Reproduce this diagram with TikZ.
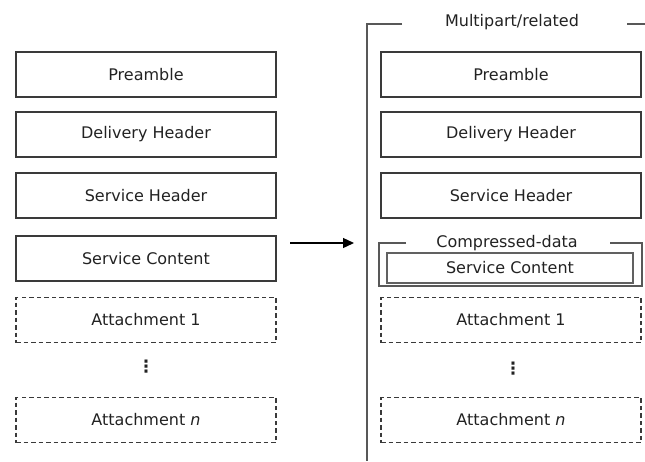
\documentclass[tikz,border=0pt]{standalone}
\usepackage{fontspec}
\setmainfont{DejaVu Sans}
\usetikzlibrary{arrows.meta}
\definecolor{ln}{HTML}{3A3A3A}
\definecolor{tx}{HTML}{222222}
\begin{document}
\begin{tikzpicture}[x=1pt,y=-1pt,
  font=\fontsize{16}{19}\selectfont, text=tx,
  box/.style={draw=ln, line width=1.3pt, minimum width=260pt, minimum height=45pt, inner sep=0pt, anchor=center},
  dbox/.style={box, dash pattern=on 4.5pt off 3pt, line width=1.1pt},
  frame/.style={draw=ln!85, line width=1.4pt},
  vdots/.style={font=\fontsize{17}{17}\selectfont\bfseries, inner sep=0pt}]
\useasboundingbox (0,0) rectangle (645,461);
% left column
\node[box] (lpre) at (146,74.5) {Preamble};
\node[box] (ldel) at (146,134.5) {Delivery Header};
\node[box] (lsh) at (146,195.5) {Service Header};
\node[box] (lsc) at (146,258.5) {Service Content};
\node[dbox] (la1) at (146,320) {Attachment 1};
\node[vdots] (ldots) at (146,367) {⋮};
\node[dbox] (lan) at (146,420) {Attachment \textit{n}};
% arrow
\coordinate (as) at (290,243);
\coordinate (ae) at (354,243);
\draw[line width=1.3pt, -{Triangle[length=11pt,width=10pt]}] (as) -- (ae);
% multipart frame
\node (mp) at (512,22) {Multipart/related};
\coordinate (m1) at (402,24);
\coordinate (m2) at (367,24);
\coordinate (m3) at (367,461);
\coordinate (m4) at (627,24);
\coordinate (m5) at (645,24);
\draw[frame] (m1) -- (m2) -- (m3);
\draw[frame] (m4) -- (m5);
% right column
\node[box] (rpre) at (511,74.5) {Preamble};
\node[box] (rdel) at (511,134.5) {Delivery Header};
\node[box] (rsh) at (511,195.5) {Service Header};
% compressed-data frame
\node (cd) at (507,243) {Compressed-data};
\coordinate (c1) at (406,243);
\coordinate (c2) at (379,243);
\coordinate (c3) at (379,286);
\coordinate (c4) at (642,286);
\coordinate (c5) at (642,243);
\coordinate (c6) at (610,243);
\draw[frame, line width=1.2pt] (c1) -- (c2) -- (c3) -- (c4) -- (c5) -- (c6);
\node[box, minimum width=246pt, minimum height=30pt, draw=ln!80, line width=1.8pt] (rsc) at (510,268) {Service Content};
\node[dbox] (ra1) at (511,320) {Attachment 1};
\node[vdots] (rdots) at (513,369) {⋮};
\node[dbox] (ran) at (511,420) {Attachment \textit{n}};
\end{tikzpicture}
\end{document}
